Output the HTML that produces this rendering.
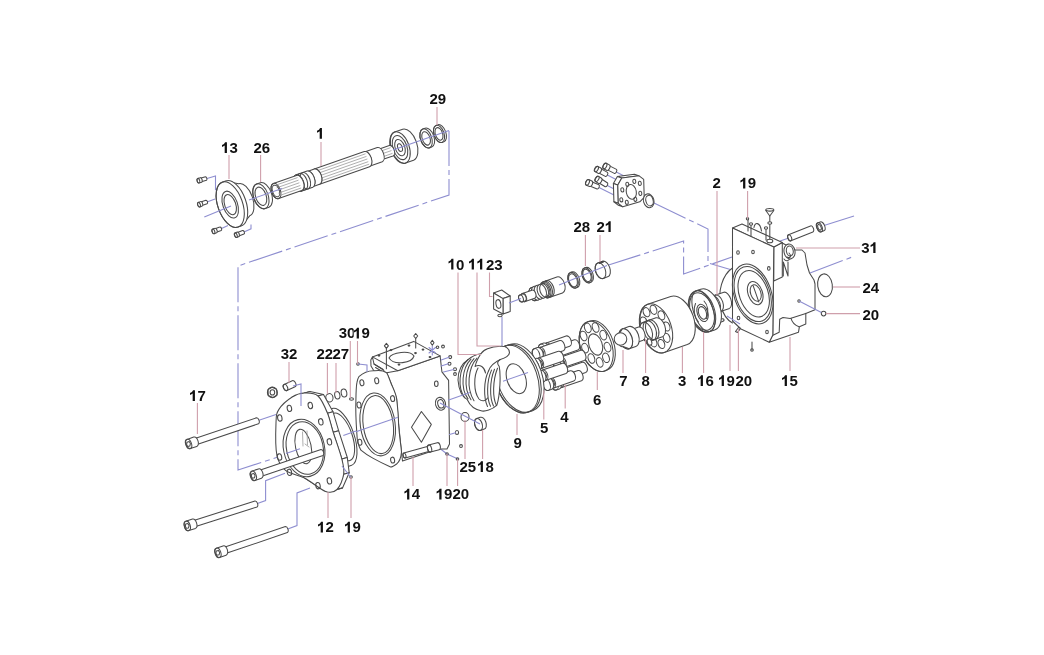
<!DOCTYPE html>
<html><head><meta charset="utf-8"><style>
html,body{margin:0;padding:0;background:#fff;}
body{width:1044px;height:655px;overflow:hidden;}
svg{display:block;}
.lb .one{fill:#111;stroke:none;}
.lb text{font-family:"Liberation Sans",sans-serif;font-weight:bold;font-size:15px;fill:#111;}
.ld polyline{fill:none;stroke:#cf9fab;stroke-width:1.1;}
.bl polyline{fill:none;stroke:#8e8ed0;stroke-width:1.1;}
.bl .bd{stroke-dasharray:35 4 5 4;}
.pt *{fill:none;stroke:#4a4a4a;stroke-width:1.05;stroke-linejoin:round;stroke-linecap:round;}
.pt .w{fill:#fff;}
.pt .lt{stroke:#999;stroke-width:0.8;}
.pt .b,.pt .bd{fill:none;stroke:#8e8ed0;stroke-width:1.1;}
.pt .bd{stroke-dasharray:35 4 5 4;}
</style></head><body>
<svg width="1044" height="655" viewBox="0 0 1044 655">
<defs><filter id="sf" x="0" y="0" width="1" height="1"><feOffset dx="0" dy="0"/></filter></defs>
<g filter="url(#sf)">
<rect width="1044" height="655" fill="#fff"/>
<g class="bl">
<polyline class="bd" points="449,131 449,195 238,266 238,470 278,457"/>
<polyline class="bd" points="654,203 708,229 708,263 732,270"/>
<polyline class="bd" points="607,265.6 683.6,241 683.6,274 732,257"/>
<polyline class="bd" points="810,273 853.7,256.4"/>
<polyline class="bs" points="207,178.5 215.5,175.9 215.5,190.3"/>
<polyline class="bs" points="207,202 215,199"/>
<polyline class="bs" points="221,228.8 228,225.5"/>
<polyline class="bs" points="244,232 251,228.8 251,224.5"/>
<polyline class="bs" points="615.4,171.4 624,176"/>
<polyline class="bs" points="606.4,174.4 619,181"/>
<polyline class="bs" points="606.4,184.9 617,190.5"/>
<polyline class="bs" points="598,186.9 614,195"/>
<polyline class="bs" points="631,192 654,203"/>
<polyline class="bs" points="502,317 502,346"/>
<polyline class="bs" points="780,241 789.7,237.8"/>
<polyline class="bs" points="824,225.5 854,216"/>
<polyline class="bs" points="257.5,420.8 276,414.5"/>
<polyline class="bs" points="256,504 265.6,500.5 265.6,480.7 285,473.3"/>
<polyline class="bs" points="286.4,529.6 297,525.5 297,493 310,488"/>
<polyline class="bs" points="438,447 447,454 458,459"/>
</g>
<g class="pt">
<path class="w" d="M609.1,165.6 L616.5,169.4 A1.3 2.3 27.2 0 1 614.3,173.4 L607.0,169.6 A1.3 2.3 27.2 0 1 609.1,165.6Z"/><ellipse cx="608.0" cy="167.6" rx="1.3" ry="2.3" transform="rotate(27.2 608.0 167.6)"/><path class="w" d="M606.3,163.3 L609.4,164.9 A1.7 3.0 27.2 0 1 606.6,170.3 L603.5,168.7 A1.7 3.0 27.2 0 1 606.3,163.3Z"/><ellipse cx="604.9" cy="166.0" rx="1.7" ry="3.0" transform="rotate(27.2 604.9 166.0)"/>
<path class="w" d="M600.6,168.6 L607.5,172.4 A1.3 2.3 28.4 0 1 605.3,176.4 L598.4,172.7 A1.3 2.3 28.4 0 1 600.6,168.6Z"/><ellipse cx="599.5" cy="170.7" rx="1.3" ry="2.3" transform="rotate(28.4 599.5 170.7)"/><path class="w" d="M597.8,166.4 L600.9,168.0 A1.7 3.0 28.4 0 1 598.1,173.3 L595.0,171.6 A1.7 3.0 28.4 0 1 597.8,166.4Z"/><ellipse cx="596.4" cy="169.0" rx="1.7" ry="3.0" transform="rotate(28.4 596.4 169.0)"/>
<path class="w" d="M601.2,178.8 L607.6,183.0 A1.3 2.3 32.6 0 1 605.2,186.8 L598.7,182.7 A1.3 2.3 32.6 0 1 601.2,178.8Z"/><ellipse cx="600.0" cy="180.8" rx="1.3" ry="2.3" transform="rotate(32.6 600.0 180.8)"/><path class="w" d="M598.6,176.4 L601.6,178.3 A1.7 3.0 32.6 0 1 598.3,183.3 L595.4,181.4 A1.7 3.0 32.6 0 1 598.6,176.4Z"/><ellipse cx="597.0" cy="178.9" rx="1.7" ry="3.0" transform="rotate(32.6 597.0 178.9)"/>
<path class="w" d="M591.6,181.7 L598.9,184.8 A1.3 2.3 23.2 0 1 597.1,189.0 L589.8,185.9 A1.3 2.3 23.2 0 1 591.6,181.7Z"/><ellipse cx="590.7" cy="183.8" rx="1.3" ry="2.3" transform="rotate(23.2 590.7 183.8)"/><path class="w" d="M588.7,179.6 L591.9,181.0 A1.7 3.0 23.2 0 1 589.5,186.5 L586.3,185.2 A1.7 3.0 23.2 0 1 588.7,179.6Z"/><ellipse cx="587.5" cy="182.4" rx="1.7" ry="3.0" transform="rotate(23.2 587.5 182.4)"/>
<polygon class="w" points="617.4,176.4 634.4,174.2 638.8,175.7 621.8,177.9"/>
<polygon class="w" points="613.4,183.4 617.4,176.4 621.8,177.9 617.8,184.9"/>
<polygon class="w" points="613.9,201.8 613.4,183.4 617.8,184.9 618.3,203.3"/>
<polygon class="w" points="618.4,205.3 613.9,201.8 618.3,203.3 622.8,206.8"/>
<polygon class="w" points="621.8,177.9 638.8,175.7 643.7,179.4 644.2,197.3 639.8,201.8 622.8,206.8 618.3,203.3 617.8,184.9"/>
<ellipse cx="631.3" cy="191.9" rx="5.0" ry="7.5" transform="rotate(-10 631.3 191.9)"/>
<ellipse cx="627.3" cy="184.4" rx="1.5" ry="2.1" transform="rotate(-10 627.3 184.4)"/>
<ellipse cx="634.3" cy="181.4" rx="1.5" ry="2.1" transform="rotate(-10 634.3 181.4)"/>
<ellipse cx="639.8" cy="183.4" rx="1.5" ry="2.1" transform="rotate(-10 639.8 183.4)"/>
<ellipse cx="640.3" cy="193.4" rx="1.5" ry="2.1" transform="rotate(-10 640.3 193.4)"/>
<ellipse cx="635.3" cy="199.3" rx="1.5" ry="2.1" transform="rotate(-10 635.3 199.3)"/>
<ellipse cx="626.8" cy="202.3" rx="1.5" ry="2.1" transform="rotate(-10 626.8 202.3)"/>
<ellipse cx="621.3" cy="199.8" rx="1.5" ry="2.1" transform="rotate(-10 621.3 199.8)"/>
<ellipse cx="622.3" cy="189.9" rx="1.5" ry="2.1" transform="rotate(-10 622.3 189.9)"/>
<ellipse class="w" cx="648.7" cy="200.8" rx="5.2" ry="7.0" transform="rotate(-15 648.7 200.8)"/>
<ellipse cx="649.5" cy="200.6" rx="3.6" ry="5.4" transform="rotate(-15 649.5 200.6)"/>
<path class="w" d="M597.8,262.9 L602.8,261.2 A4.9 8.2 -19.3 0 1 608.2,276.6 L603.2,278.4 A4.9 8.2 -19.3 0 1 597.8,262.9Z"/><ellipse cx="600.5" cy="270.7" rx="4.9" ry="8.2" transform="rotate(-19.3 600.5 270.7)"/>
<line x1="599.3" y1="262.4" x2="602.8" y2="261.2"/>
<line x1="599.4" y1="262.6" x2="602.9" y2="261.4"/>
<line x1="599.4" y1="262.8" x2="602.9" y2="261.5"/>
<line x1="599.5" y1="263.0" x2="603.0" y2="261.7"/>
<line x1="599.6" y1="263.2" x2="603.1" y2="261.9"/>
<line x1="599.6" y1="263.3" x2="603.1" y2="262.1"/>
<path class="w" d="M584.4,268.0 L585.9,267.5 A4.7 7.8 -19.3 0 1 591.1,282.2 L589.6,282.7 A4.7 7.8 -19.3 0 1 584.4,268.0Z"/><ellipse cx="587.0" cy="275.4" rx="4.7" ry="7.8" transform="rotate(-19.3 587.0 275.4)"/>
<ellipse cx="587.0" cy="275.4" rx="3.8" ry="6.4" transform="rotate(-19.3 587.0 275.4)"/>
<path class="w" d="M570.3,272.6 L571.8,272.0 A4.9 8.2 -19.3 0 1 577.2,287.5 L575.7,288.0 A4.9 8.2 -19.3 0 1 570.3,272.6Z"/><ellipse cx="573.0" cy="280.3" rx="4.9" ry="8.2" transform="rotate(-19.3 573.0 280.3)"/>
<ellipse cx="573.0" cy="280.3" rx="4.1" ry="6.8" transform="rotate(-19.3 573.0 280.3)"/>
<path class="w" d="M542.8,282.0 L556.9,277.0 A5.0 8.4 -19.3 0 1 562.5,292.9 L548.3,297.8 A5.0 8.4 -19.3 0 1 542.8,282.0Z"/><ellipse cx="545.5" cy="289.9" rx="5.0" ry="8.4" transform="rotate(-19.3 545.5 289.9)"/>
<ellipse cx="548.8" cy="288.7" rx="5.0" ry="8.4" transform="rotate(-19.3 548.8 288.7)"/>
<ellipse cx="547.0" cy="289.4" rx="5.0" ry="8.4" transform="rotate(-19.3 547.0 289.4)"/>
<path class="w" d="M531.0,287.8 L543.3,283.5 A4.1 6.8 -19.3 0 1 547.8,296.3 L535.5,300.6 A4.1 6.8 -19.3 0 1 531.0,287.8Z"/><ellipse cx="533.3" cy="294.2" rx="4.1" ry="6.8" transform="rotate(-19.3 533.3 294.2)"/>
<ellipse class="w" cx="536.1" cy="293.2" rx="4.3" ry="7.2" transform="rotate(-19.3 536.1 293.2)"/>
<ellipse class="w" cx="538.9" cy="292.2" rx="4.3" ry="7.2" transform="rotate(-19.3 538.9 292.2)"/>
<ellipse class="w" cx="541.8" cy="291.2" rx="4.3" ry="7.2" transform="rotate(-19.3 541.8 291.2)"/>
<ellipse cx="544.1" cy="290.4" rx="4.1" ry="6.8" transform="rotate(-19.3 544.1 290.4)"/>
<path class="w" d="M522.4,293.5 L531.9,290.2 A2.5 4.2 -19.3 0 1 534.7,298.2 L525.2,301.5 A2.5 4.2 -19.3 0 1 522.4,293.5Z"/><ellipse cx="523.8" cy="297.5" rx="2.5" ry="4.2" transform="rotate(-19.3 523.8 297.5)"/>
<path class="w" d="M519.8,295.1 L522.6,294.1 A2.2 3.6 -19.3 0 1 525.0,300.9 L522.2,301.9 A2.2 3.6 -19.3 0 1 519.8,295.1Z"/><ellipse cx="521.0" cy="298.5" rx="2.2" ry="3.6" transform="rotate(-19.3 521.0 298.5)"/>
<polygon class="w" points="493.6,293.0 501.7,290.0 510.2,296.0 503.0,298.6"/>
<polygon class="w" points="503.0,298.6 510.2,296.0 510.2,311.5 503.0,314.0"/>
<polygon class="w" points="493.6,293.0 503.0,298.6 503.0,314.0 493.6,309.0"/>
<ellipse cx="498.4" cy="304.0" rx="2.4" ry="4.4" transform="rotate(-10 498.4 304.0)"/>
<ellipse class="w" cx="500.0" cy="315.5" rx="2.2" ry="1.3"/>
<path class="w" d="M817.7,222.9 L820.3,221.9 A2.6 4.8 -22.0 0 1 823.9,230.8 L821.3,231.8 A2.6 4.8 -22.0 0 1 817.7,222.9Z"/><ellipse cx="819.5" cy="227.3" rx="2.6" ry="4.8" transform="rotate(-22.0 819.5 227.3)"/>
<ellipse cx="819.5" cy="227.3" rx="1.6" ry="2.9" transform="rotate(-22.0 819.5 227.3)"/>
<path class="w" d="M788.5,234.8 L810.5,225.9 A1.8 3.2 -22.0 0 1 812.9,231.9 L790.9,240.8 A1.8 3.2 -22.0 0 1 788.5,234.8Z"/><ellipse cx="789.7" cy="237.8" rx="1.8" ry="3.2" transform="rotate(-22.0 789.7 237.8)"/>
<polygon class="w" points="782.3,243.0 795.0,250.0 802.0,250.0 805.0,253.0 807.0,265.0 809.5,273.0 814.0,280.0 815.0,284.0 815.0,309.7 805.8,313.4 805.8,323.9 799.4,326.7 798.5,332.2 769.2,342.2 772.8,335.0 773.8,247.0"/>
<polyline points="771.9,335.8 779.2,332.2 779.7,319.3 783.0,317.5 790.2,318.4 805.8,313.4"/>
<path d="M791,318.4 C792,322 794,325 799,326.7"/>
<polygon class="w" points="773.8,247.0 782.3,242.5 782.3,277.0 773.8,281.0"/>
<polygon class="w" points="732.5,228.0 742.0,224.0 782.3,242.5 773.8,247.0"/>
<path class="w" d="M754,227.5 C754.5,222 760,221.5 761.5,231"/>
<path class="w" d="M732.5,268 C722,275 717.5,292 721,306 C723,314 727,320 732.5,323"/>
<polygon class="w" points="732.5,228.0 773.8,247.0 772.8,335.0 769.2,342.2 741.0,329.0 732.5,321.0"/>
<ellipse cx="738.0" cy="252.5" rx="1.3" ry="1.8"/>
<ellipse cx="753.0" cy="252.0" rx="1.3" ry="1.8"/>
<ellipse cx="768.8" cy="268.4" rx="1.3" ry="1.8"/>
<ellipse cx="738.5" cy="318.0" rx="1.3" ry="1.8"/>
<ellipse cx="767.0" cy="332.0" rx="1.3" ry="1.8"/>
<ellipse class="w" cx="752.7" cy="294.0" rx="18.6" ry="31.0" transform="rotate(-19.0 752.7 294.0)"/>
<ellipse cx="752.7" cy="294.0" rx="17.1" ry="28.5" transform="rotate(-19.0 752.7 294.0)"/>
<ellipse cx="753.7" cy="293.7" rx="14.4" ry="24.0" transform="rotate(-19.0 753.7 293.7)"/>
<ellipse class="w" cx="755.2" cy="293.1" rx="7.2" ry="12.0" transform="rotate(-19.0 755.2 293.1)"/>
<ellipse cx="755.7" cy="293.0" rx="5.1" ry="8.5" transform="rotate(-19.0 755.7 293.0)"/>
<line x1="753.2" y1="285.9" x2="758.8" y2="301.9"/>
<polyline points="783.3,276.0 783.3,262.0 788.0,276.0 788.0,262.0"/>
<path d="M784,259 C786,262 789,261 790,258"/>
<ellipse class="w" cx="789.5" cy="251.5" rx="5.5" ry="7.5" transform="rotate(-10 789.5 251.5)"/>
<ellipse cx="789.8" cy="251.0" rx="3.4" ry="5.0" transform="rotate(-10 789.8 251.0)"/>
<path d="M787,257 C790,259 792,256 789,253"/>
<line x1="748.0" y1="219.0" x2="748.0" y2="231.0"/>
<ellipse class="w" cx="747.5" cy="218.8" rx="1.2" ry="1.2"/>
<line x1="751.0" y1="224.0" x2="751.0" y2="236.0"/>
<ellipse class="w" cx="751.0" cy="224.0" rx="1.6" ry="1.2"/>
<line x1="766.0" y1="228.0" x2="766.0" y2="240.0"/>
<ellipse class="w" cx="766.0" cy="228.0" rx="1.6" ry="1.2"/>
<line x1="769.8" y1="216.0" x2="769.8" y2="241.0"/>
<polygon class="w" points="765.8,210.5 773.8,210.5 769.8,216.0"/>
<ellipse class="w" cx="769.8" cy="209.8" rx="4.0" ry="1.3"/>
<ellipse class="w" cx="769.8" cy="223.0" rx="2.0" ry="1.3"/>
<ellipse class="w" cx="769.8" cy="241.0" rx="3.0" ry="1.8"/>
<ellipse class="w" cx="825.0" cy="285.3" rx="7.3" ry="11.5" transform="rotate(-8 825.0 285.3)"/>
<ellipse class="w" cx="823.6" cy="313.6" rx="2.3" ry="2.3"/>
<ellipse cx="799.0" cy="301.0" rx="1.2" ry="1.2"/>
<ellipse class="w" cx="721.5" cy="320.4" rx="2.6" ry="1.5" transform="rotate(-15 721.5 320.4)"/>
<path class="w" d="M735.5,331.5 L738.5,327.5 L740.5,328.5 L737.5,332.5Z"/>
<line x1="752.0" y1="342.0" x2="752.0" y2="350.0"/>
<ellipse cx="752.0" cy="350.0" rx="1.3" ry="1.3"/>
<path class="w" d="M709.7,297.1 L723.9,292.2 A4.7 8.6 -19.0 0 1 729.5,308.4 L715.3,313.3 A4.7 8.6 -19.0 0 1 709.7,297.1Z"/><ellipse cx="712.5" cy="305.2" rx="4.7" ry="8.6" transform="rotate(-19.0 712.5 305.2)"/>
<ellipse cx="715.3" cy="304.2" rx="4.7" ry="8.6" transform="rotate(-19.0 715.3 304.2)"/>
<ellipse cx="718.2" cy="303.2" rx="4.7" ry="8.6" transform="rotate(-19.0 718.2 303.2)"/>
<path class="w" d="M695.0,291.2 L700.7,289.2 A12.5 21.5 -19.0 0 1 714.7,329.9 L709.0,331.8 A12.5 21.5 -19.0 0 1 695.0,291.2Z"/><ellipse cx="702.0" cy="311.5" rx="12.5" ry="21.5" transform="rotate(-19.0 702.0 311.5)"/>
<ellipse cx="702.0" cy="311.5" rx="11.3" ry="19.5" transform="rotate(-19.0 702.0 311.5)"/>
<ellipse cx="703.4" cy="311.0" rx="9.7" ry="21.5" transform="rotate(-19.0 703.4 311.0)"/>
<ellipse class="w" cx="702.5" cy="312.9" rx="5.2" ry="9.0" transform="rotate(-19.0 702.5 312.9)"/>
<ellipse cx="702.5" cy="312.9" rx="3.8" ry="6.5" transform="rotate(-19.0 702.5 312.9)"/>
<path d="M695.5,303.5 C693,309 694,317 698.5,322"/>
<path d="M704,301 C708,305 709,312 706.5,318.5"/>
<path class="w" d="M647.7,304.3 L670.7,296.4 A15.3 25.5 -19.0 0 1 687.3,344.6 L664.3,352.5 A15.3 25.5 -19.0 0 1 647.7,304.3Z"/><ellipse cx="656.0" cy="328.4" rx="15.3" ry="25.5" transform="rotate(-19.0 656.0 328.4)"/>
<ellipse cx="646.5" cy="333.4" rx="3.2" ry="4.7" transform="rotate(-19 646.5 333.4)"/>
<ellipse cx="653.5" cy="342.3" rx="3.2" ry="4.7" transform="rotate(-19 653.5 342.3)"/>
<ellipse cx="661.4" cy="344.0" rx="3.2" ry="4.7" transform="rotate(-19 661.4 344.0)"/>
<ellipse cx="666.6" cy="337.8" rx="3.2" ry="4.7" transform="rotate(-19 666.6 337.8)"/>
<ellipse cx="666.6" cy="326.5" rx="3.2" ry="4.7" transform="rotate(-19 666.6 326.5)"/>
<ellipse cx="661.4" cy="315.4" rx="3.2" ry="4.7" transform="rotate(-19 661.4 315.4)"/>
<ellipse cx="653.5" cy="309.8" rx="3.2" ry="4.7" transform="rotate(-19 653.5 309.8)"/>
<ellipse cx="646.5" cy="312.2" rx="3.2" ry="4.7" transform="rotate(-19 646.5 312.2)"/>
<ellipse cx="643.7" cy="321.5" rx="3.2" ry="4.7" transform="rotate(-19 643.7 321.5)"/>
<path class="w" d="M642.8,322.4 L656.0,317.8 A6.0 10.0 -19.0 0 1 662.5,336.7 L649.3,341.3 A6.0 10.0 -19.0 0 1 642.8,322.4Z"/><ellipse cx="646.0" cy="331.9" rx="6.0" ry="10.0" transform="rotate(-19.0 646.0 331.9)"/>
<ellipse cx="649.8" cy="330.6" rx="6.2" ry="10.3" transform="rotate(-19.0 649.8 330.6)"/>
<ellipse cx="652.2" cy="329.7" rx="6.2" ry="10.3" transform="rotate(-19.0 652.2 329.7)"/>
<ellipse class="w" cx="649.5" cy="342.0" rx="2.2" ry="3.3" transform="rotate(-19 649.5 342.0)"/>
<path class="w" d="M630.1,329.9 L638.6,327.0 A4.2 7.0 -19.0 0 1 643.1,340.2 L634.6,343.2 A4.2 7.0 -19.0 0 1 630.1,329.9Z"/><ellipse cx="632.4" cy="336.6" rx="4.2" ry="7.0" transform="rotate(-19.0 632.4 336.6)"/>
<path class="w" d="M622.3,328.9 L628.9,326.6 A6.3 10.5 -19.0 0 1 635.8,346.5 L629.2,348.8 A6.3 10.5 -19.0 0 1 622.3,328.9Z"/><ellipse cx="625.7" cy="338.8" rx="6.3" ry="10.5" transform="rotate(-19.0 625.7 338.8)"/>
<path class="w" d="M618.9,334.3 L622.3,328.9 A6.3 10.5 -19.0 0 1 629.2,348.8 L623.1,346.6 A3.9 6.5 -19.0 0 1 618.9,334.3Z"/>
<circle class="w" cx="620.5" cy="339" r="6.3"/>
<path class="w" d="M587.7,321.8 L589.8,321.1 A15.6 26.0 -19.0 0 1 606.8,370.3 L604.7,371.0 A15.6 26.0 -19.0 0 1 587.7,321.8Z"/><ellipse cx="596.2" cy="346.4" rx="15.6" ry="26.0" transform="rotate(-19.0 596.2 346.4)"/>
<ellipse cx="595.5" cy="344.5" rx="6.6" ry="11.0" transform="rotate(-19.0 595.5 344.5)"/>
<ellipse cx="585.1" cy="348.1" rx="3.2" ry="4.9" transform="rotate(-19 585.1 348.1)"/>
<ellipse cx="591.4" cy="358.5" rx="3.2" ry="4.9" transform="rotate(-19 591.4 358.5)"/>
<ellipse cx="599.7" cy="362.4" rx="3.2" ry="4.9" transform="rotate(-19 599.7 362.4)"/>
<ellipse cx="606.0" cy="357.8" rx="3.2" ry="4.9" transform="rotate(-19 606.0 357.8)"/>
<ellipse cx="607.5" cy="347.1" rx="3.2" ry="4.9" transform="rotate(-19 607.5 347.1)"/>
<ellipse cx="603.3" cy="335.1" rx="3.2" ry="4.9" transform="rotate(-19 603.3 335.1)"/>
<ellipse cx="595.6" cy="327.5" rx="3.2" ry="4.9" transform="rotate(-19 595.6 327.5)"/>
<ellipse cx="587.8" cy="327.9" rx="3.2" ry="4.9" transform="rotate(-19 587.8 327.9)"/>
<ellipse cx="583.6" cy="336.0" rx="3.2" ry="4.9" transform="rotate(-19 583.6 336.0)"/>
<path class="w" d="M560.9,357.1 L580.8,350.2 A3.2 5.4 -19.0 0 1 584.3,360.4 L564.4,367.3 A3.2 5.4 -19.0 0 1 560.9,357.1Z"/><ellipse cx="562.7" cy="362.2" rx="3.2" ry="5.4" transform="rotate(-19.0 562.7 362.2)"/>
<path class="w" d="M559.2,359.8 L561.6,359.0 A2.0 3.4 -19.0 0 1 563.8,365.4 L561.4,366.2 A2.0 3.4 -19.0 0 1 559.2,359.8Z"/>
<path class="w" d="M555.0,358.5 L558.3,357.3 A3.6 6.0 -19.0 0 1 562.3,368.7 L558.9,369.8 A3.6 6.0 -19.0 0 1 555.0,358.5Z"/><ellipse cx="557.0" cy="364.1" rx="3.6" ry="6.0" transform="rotate(-19.0 557.0 364.1)"/>
<path class="w" d="M562.3,369.2 L582.2,362.3 A3.2 5.4 -19.0 0 1 585.7,372.5 L565.8,379.4 A3.2 5.4 -19.0 0 1 562.3,369.2Z"/><ellipse cx="564.1" cy="374.3" rx="3.2" ry="5.4" transform="rotate(-19.0 564.1 374.3)"/>
<path class="w" d="M560.6,371.9 L563.0,371.1 A2.0 3.4 -19.0 0 1 565.2,377.5 L562.8,378.3 A2.0 3.4 -19.0 0 1 560.6,371.9Z"/>
<path class="w" d="M556.5,370.6 L559.8,369.4 A3.6 6.0 -19.0 0 1 563.7,380.8 L560.4,381.9 A3.6 6.0 -19.0 0 1 556.5,370.6Z"/><ellipse cx="558.4" cy="376.2" rx="3.6" ry="6.0" transform="rotate(-19.0 558.4 376.2)"/>
<path class="w" d="M554.6,346.7 L574.4,339.8 A3.2 5.4 -19.0 0 1 577.9,350.1 L558.1,356.9 A3.2 5.4 -19.0 0 1 554.6,346.7Z"/><ellipse cx="556.3" cy="351.8" rx="3.2" ry="5.4" transform="rotate(-19.0 556.3 351.8)"/>
<path class="w" d="M552.9,349.4 L555.2,348.6 A2.0 3.4 -19.0 0 1 557.4,355.0 L555.1,355.8 A2.0 3.4 -19.0 0 1 552.9,349.4Z"/>
<path class="w" d="M548.7,348.1 L552.0,346.9 A3.6 6.0 -19.0 0 1 555.9,358.3 L552.6,359.4 A3.6 6.0 -19.0 0 1 548.7,348.1Z"/><ellipse cx="550.7" cy="353.8" rx="3.6" ry="6.0" transform="rotate(-19.0 550.7 353.8)"/>
<path class="w" d="M558.2,377.3 L578.0,370.5 A3.2 5.4 -19.0 0 1 581.5,380.7 L561.7,387.5 A3.2 5.4 -19.0 0 1 558.2,377.3Z"/><ellipse cx="559.9" cy="382.4" rx="3.2" ry="5.4" transform="rotate(-19.0 559.9 382.4)"/>
<path class="w" d="M556.5,380.0 L558.8,379.2 A2.0 3.4 -19.0 0 1 561.0,385.6 L558.7,386.4 A2.0 3.4 -19.0 0 1 556.5,380.0Z"/>
<path class="w" d="M552.3,378.7 L555.6,377.5 A3.6 6.0 -19.0 0 1 559.5,388.9 L556.2,390.0 A3.6 6.0 -19.0 0 1 552.3,378.7Z"/><ellipse cx="554.3" cy="384.4" rx="3.6" ry="6.0" transform="rotate(-19.0 554.3 384.4)"/>
<path class="w" d="M546.3,342.9 L566.1,336.0 A3.2 5.4 -19.0 0 1 569.7,346.2 L549.8,353.1 A3.2 5.4 -19.0 0 1 546.3,342.9Z"/><ellipse cx="548.1" cy="348.0" rx="3.2" ry="5.4" transform="rotate(-19.0 548.1 348.0)"/>
<path class="w" d="M544.6,345.6 L546.9,344.7 A2.0 3.4 -19.0 0 1 549.2,351.2 L546.8,352.0 A2.0 3.4 -19.0 0 1 544.6,345.6Z"/>
<path class="w" d="M540.4,344.2 L543.7,343.1 A3.6 6.0 -19.0 0 1 547.6,354.4 L544.3,355.6 A3.6 6.0 -19.0 0 1 540.4,344.2Z"/><ellipse cx="542.4" cy="349.9" rx="3.6" ry="6.0" transform="rotate(-19.0 542.4 349.9)"/>
<path class="w" d="M550.4,377.7 L570.2,370.8 A3.2 5.4 -19.0 0 1 573.8,381.0 L553.9,387.9 A3.2 5.4 -19.0 0 1 550.4,377.7Z"/><ellipse cx="552.1" cy="382.8" rx="3.2" ry="5.4" transform="rotate(-19.0 552.1 382.8)"/>
<path class="w" d="M548.7,380.4 L551.0,379.6 A2.0 3.4 -19.0 0 1 553.3,386.0 L550.9,386.8 A2.0 3.4 -19.0 0 1 548.7,380.4Z"/>
<path class="w" d="M544.5,379.0 L547.8,377.9 A3.6 6.0 -19.0 0 1 551.7,389.3 L548.4,390.4 A3.6 6.0 -19.0 0 1 544.5,379.0Z"/><ellipse cx="546.5" cy="384.7" rx="3.6" ry="6.0" transform="rotate(-19.0 546.5 384.7)"/>
<path class="w" d="M539.9,347.4 L559.8,340.5 A3.2 5.4 -19.0 0 1 563.3,350.7 L543.5,357.6 A3.2 5.4 -19.0 0 1 539.9,347.4Z"/><ellipse cx="541.7" cy="352.5" rx="3.2" ry="5.4" transform="rotate(-19.0 541.7 352.5)"/>
<path class="w" d="M538.2,350.1 L540.6,349.3 A2.0 3.4 -19.0 0 1 542.8,355.7 L540.4,356.5 A2.0 3.4 -19.0 0 1 538.2,350.1Z"/>
<path class="w" d="M534.1,348.8 L537.4,347.6 A3.6 6.0 -19.0 0 1 541.3,359.0 L538.0,360.1 A3.6 6.0 -19.0 0 1 534.1,348.8Z"/><ellipse cx="536.0" cy="354.4" rx="3.6" ry="6.0" transform="rotate(-19.0 536.0 354.4)"/>
<path class="w" d="M542.6,370.1 L562.5,363.2 A3.2 5.4 -19.0 0 1 566.0,373.4 L546.1,380.3 A3.2 5.4 -19.0 0 1 542.6,370.1Z"/><ellipse cx="544.4" cy="375.2" rx="3.2" ry="5.4" transform="rotate(-19.0 544.4 375.2)"/>
<path class="w" d="M540.9,372.8 L543.3,372.0 A2.0 3.4 -19.0 0 1 545.5,378.4 L543.1,379.2 A2.0 3.4 -19.0 0 1 540.9,372.8Z"/>
<path class="w" d="M536.7,371.5 L540.1,370.3 A3.6 6.0 -19.0 0 1 544.0,381.7 L540.7,382.8 A3.6 6.0 -19.0 0 1 536.7,371.5Z"/><ellipse cx="538.7" cy="377.1" rx="3.6" ry="6.0" transform="rotate(-19.0 538.7 377.1)"/>
<path class="w" d="M538.5,358.1 L558.3,351.3 A3.2 5.4 -19.0 0 1 561.9,361.5 L542.0,368.3 A3.2 5.4 -19.0 0 1 538.5,358.1Z"/><ellipse cx="540.2" cy="363.2" rx="3.2" ry="5.4" transform="rotate(-19.0 540.2 363.2)"/>
<path class="w" d="M536.8,360.8 L539.1,360.0 A2.0 3.4 -19.0 0 1 541.4,366.4 L539.0,367.3 A2.0 3.4 -19.0 0 1 536.8,360.8Z"/>
<path class="w" d="M532.6,359.5 L535.9,358.4 A3.6 6.0 -19.0 0 1 539.8,369.7 L536.5,370.9 A3.6 6.0 -19.0 0 1 532.6,359.5Z"/><ellipse cx="534.6" cy="365.2" rx="3.6" ry="6.0" transform="rotate(-19.0 534.6 365.2)"/>
<path class="w" d="M505.0,346.1 L509.7,344.5 A21.0 35.0 -19.0 0 1 532.6,410.7 L527.8,412.3 A21.0 35.0 -19.0 0 1 505.0,346.1Z"/><ellipse cx="516.4" cy="379.2" rx="21.0" ry="35.0" transform="rotate(-19.0 516.4 379.2)"/>
<ellipse cx="518.3" cy="378.5" rx="21.0" ry="35.0" transform="rotate(-19.0 518.3 378.5)"/>
<ellipse class="w" cx="516.3" cy="378.7" rx="9.3" ry="15.5" transform="rotate(-19.0 516.3 378.7)"/>

<path class="w" d="M480.9,353.7 C483,350 490,346.5 500.3,346.3 C505,346 509,348 509.5,352.6 C509,356 504,358.5 500.3,359.5 C497,361 497,364 499.2,366.3 C501,375 500,395 496.9,405.2 C492,410 485,411.5 482,411 C476,410 470,406 467.2,399.5 C462,397 459,392 458,380 C458,370 461,364 468.3,359.5 C472,356 476,354.5 480.9,353.7 Z"/>
<path d="M468,359.5 C459,368 457,388 465,398.0"/>
<path d="M471,359.05 C462,368 460,388 468,398.9"/>
<path d="M474,358.6 C465,368 463,388 471,399.8"/>
<path d="M477,358.15 C468,368 466,388 474,400.7"/>
<path d="M475.2,366.3 C480,364 484.5,367 485.5,373"/>
<path d="M478,368 C473.5,376 473.5,392 479,399 C482,402 486,401 487.5,398"/>
<path d="M488.5,371.0 C483.5,381 483.5,398 487.5,406.5"/>
<path d="M491.5,370.1 C486.5,381 486.5,398 490.5,406.2"/>
<path d="M494.5,369.2 C489.5,381 489.5,398 493.5,405.9"/>
<path d="M497.5,368.3 C492.5,381 492.5,398 496.5,405.6"/>
<path d="M480.9,353.7 C478,358 476,362 475.2,366.3"/>
<path d="M500.3,359.5 C495,362 490,366 488.5,371"/>
<polygon class="w" points="386.7,372.8 397.8,370.8 440.1,355.9 441.9,371.8 448.6,380.3 449.5,444.0 447.0,449.0 438.3,449.0 402.5,461.0 401.5,452.1 398.6,424.4 396.6,398.6 391.6,384.7"/>
<polygon class="w" points="372.4,356.9 413.7,341.4 440.1,355.9 397.8,370.8"/>
<path d="M389,358 C392,352 410,350 414,356 C412,363 394,366 389,358Z"/>
<ellipse cx="379.0" cy="355.5" rx="0.9" ry="0.6"/>
<ellipse cx="391.0" cy="350.0" rx="0.9" ry="0.6"/>
<ellipse cx="409.0" cy="345.5" rx="0.9" ry="0.6"/>
<ellipse cx="423.0" cy="349.5" rx="0.9" ry="0.6"/>
<ellipse cx="430.0" cy="357.0" rx="0.9" ry="0.6"/>
<ellipse cx="415.5" cy="353.0" rx="0.9" ry="0.6"/>
<ellipse cx="399.0" cy="364.5" rx="0.9" ry="0.6"/>
<polygon class="w" points="372.4,356.9 374.0,364.0 383.0,369.5 386.0,373.5 382.5,375.0 374.0,371.0 371.0,366.0 370.8,360.0"/>
<line x1="374.0" y1="364.0" x2="383.0" y2="369.5"/>
<line x1="375.5" y1="367.5" x2="384.0" y2="372.5"/>
<path class="w" d="M358.9,376.7 C364,372 370,370.5 374.8,370.8 C380,370 384,371 386.7,372.8 C389,377 390,381 391.6,384.7 C394,390 396,394 396.6,398.6 C398,410 398.5,418 398.6,424.4 C399.5,437 401,446 401.5,452.1 C401,458 399,462 396.6,464 C394,466 392,467 390.6,467 C384,464 378,461 372.8,458.1 C367,455 363,452 360.9,450.2 C358,445 357,440 356.9,434.3 C356,422 355.5,410 355.9,400.6 C356,392 356.3,386 356.9,382.7 C357.3,380 358,378 358.9,376.7Z"/>
<ellipse class="w" cx="377.7" cy="424.4" rx="17.4" ry="31.7" transform="rotate(-8 377.7 424.4)"/>
<ellipse cx="378.2" cy="424.6" rx="15.0" ry="29.2" transform="rotate(-8 378.2 424.6)"/>
<ellipse cx="361.9" cy="382.7" rx="2.0" ry="3.0" transform="rotate(-10 361.9 382.7)"/>
<ellipse cx="376.7" cy="380.7" rx="2.0" ry="3.0" transform="rotate(-10 376.7 380.7)"/>
<ellipse cx="392.6" cy="398.6" rx="2.0" ry="3.0" transform="rotate(-10 392.6 398.6)"/>
<ellipse cx="359.9" cy="442.2" rx="2.0" ry="3.0" transform="rotate(-10 359.9 442.2)"/>
<ellipse cx="392.6" cy="460.1" rx="2.0" ry="3.0" transform="rotate(-10 392.6 460.1)"/>
<ellipse cx="359.0" cy="405.0" rx="2.0" ry="3.0" transform="rotate(-10 359.0 405.0)"/>
<polygon class="w" points="421.4,411.5 431.3,424.4 421.4,442.2 411.5,427.3"/>
<ellipse class="w" cx="440.5" cy="403.8" rx="5.0" ry="6.5" transform="rotate(-15 440.5 403.8)"/>
<ellipse cx="440.8" cy="403.8" rx="3.0" ry="4.3" transform="rotate(-15 440.8 403.8)"/>
<ellipse cx="436.3" cy="383.7" rx="1.8" ry="2.8"/>
<path class="w" d="M403.8,453.0 L432.7,445.0 A1.4 2.6 -15.4 0 1 434.1,450.0 L405.2,458.0 A1.4 2.6 -15.4 0 1 403.8,453.0Z"/><ellipse cx="404.5" cy="455.5" rx="1.4" ry="2.6" transform="rotate(-15.4 404.5 455.5)"/>
<path class="w" d="M428.6,445.1 L437.3,442.7 A2.0 3.6 -15.4 0 1 439.2,449.7 L430.5,452.1 A2.0 3.6 -15.4 0 1 428.6,445.1Z"/><ellipse cx="429.6" cy="448.6" rx="2.0" ry="3.6" transform="rotate(-15.4 429.6 448.6)"/>
<line x1="386.4" y1="347.9" x2="386.4" y2="368.8"/>
<polygon class="w" points="386.4,343.4 388.4,345.9 386.4,348.4 384.4,345.9"/>
<line x1="415.7" y1="338.0" x2="415.7" y2="348.0"/>
<polygon class="w" points="415.7,333.5 417.7,336.0 415.7,338.5 413.7,336.0"/>
<ellipse cx="450.2" cy="357.1" rx="1.5" ry="1.5"/>
<ellipse cx="449.5" cy="363.7" rx="1.5" ry="1.5"/>
<ellipse cx="455.0" cy="369.2" rx="1.5" ry="1.5"/>
<line class="b" x1="441.2" y1="360.0" x2="449.0" y2="357.3"/>
<line class="b" x1="441.2" y1="366.0" x2="448.2" y2="363.8"/>
<line class="b" x1="443.5" y1="372.0" x2="453.7" y2="369.5"/>
<ellipse cx="455.0" cy="374.0" rx="1.4" ry="1.4"/>
<path class="b" d="M429,347.5 L435.5,353 M435.5,347.5 L429,353 M432.3,346 L432.3,355"/>
<polygon class="w" points="432.3,340.2 434.0,342.7 432.3,345.2 430.6,342.7"/>
<ellipse cx="437.5" cy="347.2" rx="1.3" ry="1.3"/>
<ellipse cx="443.0" cy="346.5" rx="1.4" ry="1.4"/>
<ellipse class="w" cx="465.0" cy="417.0" rx="4.0" ry="4.5"/>
<path class="w" d="M476.5,418.6 L480.3,417.3 A3.7 6.2 -19.0 0 1 484.3,429.1 L480.5,430.4 A3.7 6.2 -19.0 0 1 476.5,418.6Z"/><ellipse cx="478.5" cy="424.5" rx="3.7" ry="6.2" transform="rotate(-19.0 478.5 424.5)"/>
<ellipse cx="461.0" cy="446.0" rx="1.4" ry="1.4"/>
<ellipse cx="457.5" cy="459.0" rx="1.3" ry="1.3"/>
<ellipse cx="447.0" cy="454.0" rx="1.3" ry="1.3"/>
<ellipse cx="457.0" cy="432.4" rx="1.6" ry="2.0"/>
<line class="b" x1="449.5" y1="434.5" x2="455.5" y2="432.8"/>
<ellipse class="w" cx="272.4" cy="392.4" rx="5.0" ry="5.3"/>
<ellipse cx="272.4" cy="392.4" rx="2.3" ry="2.6"/>
<path d="M268,389.5 L272,387.3 L276.5,389.3 L277,395 L273,397.5 L268.3,395.5Z"/>
<path class="w" d="M284.1,384.5 L292.3,380.7 A2.0 3.3 -25.0 0 1 295.1,386.7 L286.9,390.5 A2.0 3.3 -25.0 0 1 284.1,384.5Z"/><ellipse cx="285.5" cy="387.5" rx="2.0" ry="3.3" transform="rotate(-25.0 285.5 387.5)"/>
<ellipse class="w" cx="329.4" cy="397.8" rx="3.6" ry="4.2" transform="rotate(-10 329.4 397.8)"/>
<ellipse class="w" cx="337.3" cy="395.2" rx="2.6" ry="3.8" transform="rotate(-10 337.3 395.2)"/>
<ellipse class="w" cx="344.0" cy="393.0" rx="2.8" ry="4.0" transform="rotate(-10 344.0 393.0)"/>
<ellipse class="w" cx="351.5" cy="399.0" rx="2.0" ry="1.3"/>
<ellipse cx="358.0" cy="364.0" rx="1.3" ry="1.3"/>
<ellipse cx="351.0" cy="477.0" rx="1.3" ry="1.3"/>
<path class="w" d="M320.2,412.6 L332.0,408.6 A12.6 30.0 -19.0 0 1 351.6,465.3 L339.8,469.4 A12.6 30.0 -19.0 0 1 320.2,412.6Z"/>
<ellipse cx="341.8" cy="436.9" rx="10.5" ry="25.0" transform="rotate(-19.0 341.8 436.9)"/>
<polygon class="w" points="292.2,397.0 304.6,393.1 310.1,391.6 297.7,395.5"/>
<polygon class="w" points="304.6,393.1 318.0,396.0 323.5,394.5 310.1,391.6"/>
<polygon class="w" points="318.0,396.0 327.5,413.2 333.0,411.7 323.5,394.5"/>
<polygon class="w" points="327.5,413.2 333.2,432.3 338.7,430.8 333.0,411.7"/>
<polygon class="w" points="333.2,432.3 341.8,459.0 347.3,457.5 338.7,430.8"/>
<polygon class="w" points="341.8,459.0 343.7,474.2 349.2,472.7 347.3,457.5"/>
<polygon class="w" points="343.7,474.2 337.0,489.5 342.5,488.0 349.2,472.7"/>
<polygon class="w" points="337.0,489.5 325.6,491.4 331.1,489.9 342.5,488.0"/>
<polygon class="w" points="325.6,491.4 304.6,478.0 310.1,476.5 331.1,489.9"/>
<path class="w" d="M278.9,409.4 C281.6,405.1 287.9,399.7 292.2,397.0 C296.5,394.3 300.3,393.3 304.6,393.1 C308.9,392.9 314.2,392.6 318.0,396.0 C321.8,399.4 325.0,407.1 327.5,413.2 C330.0,419.2 330.8,424.7 333.2,432.3 C335.6,439.9 340.1,452.0 341.8,459.0 C343.6,466.0 344.5,469.1 343.7,474.2 C342.9,479.3 340.0,486.6 337.0,489.5 C334.0,492.4 331.0,493.3 325.6,491.4 C320.2,489.5 311.3,481.5 304.6,478.0 C297.9,474.5 290.1,474.2 285.5,470.4 C280.9,466.6 278.5,463.1 276.9,455.2 C275.3,447.2 275.7,430.3 276.0,422.7 C276.3,415.1 276.2,413.7 278.9,409.4 Z"/>
<ellipse class="w" cx="304.0" cy="448.0" rx="20.5" ry="29.0" transform="rotate(-12 304.0 448.0)"/>
<ellipse cx="304.8" cy="448.0" rx="18.3" ry="26.5" transform="rotate(-12 304.8 448.0)"/>
<ellipse class="w" cx="303.3" cy="446.5" rx="7.8" ry="17.5" transform="rotate(-12 303.3 446.5)"/>
<line class="lt" x1="302.5" y1="432.0" x2="303.0" y2="446.0"/>
<line class="lt" x1="307.0" y1="431.0" x2="307.5" y2="445.0"/>
<line class="lt" x1="305.0" y1="444.0" x2="309.0" y2="447.0"/>
<ellipse cx="289.4" cy="408.4" rx="2.2" ry="3.2" transform="rotate(-12 289.4 408.4)"/>
<ellipse cx="310.3" cy="405.5" rx="2.2" ry="3.2" transform="rotate(-12 310.3 405.5)"/>
<ellipse cx="279.8" cy="418.0" rx="2.2" ry="3.2" transform="rotate(-12 279.8 418.0)"/>
<ellipse cx="320.8" cy="421.8" rx="2.2" ry="3.2" transform="rotate(-12 320.8 421.8)"/>
<ellipse cx="329.4" cy="441.8" rx="2.2" ry="3.2" transform="rotate(-12 329.4 441.8)"/>
<ellipse cx="329.4" cy="480.9" rx="2.2" ry="3.2" transform="rotate(-12 329.4 480.9)"/>
<ellipse cx="289.4" cy="472.3" rx="2.2" ry="3.2" transform="rotate(-12 289.4 472.3)"/>
<ellipse cx="279.5" cy="457.0" rx="2.2" ry="3.2" transform="rotate(-12 279.5 457.0)"/>
<ellipse cx="318.0" cy="485.7" rx="2.2" ry="3.2" transform="rotate(-12 318.0 485.7)"/>
<path class="w" d="M194.2,438.7 L256.5,417.8 A1.9 3.2 -18.6 0 1 258.5,423.8 L196.3,444.8 A1.9 3.2 -18.6 0 1 194.2,438.7Z"/><ellipse cx="195.2" cy="441.8" rx="1.9" ry="3.2" transform="rotate(-18.6 195.2 441.8)"/><path class="w" d="M187.0,439.4 L193.7,437.1 A2.9 4.9 -18.6 0 1 196.8,446.4 L190.2,448.6 A2.9 4.9 -18.6 0 1 187.0,439.4Z"/><ellipse cx="188.6" cy="444.0" rx="2.9" ry="4.9" transform="rotate(-18.6 188.6 444.0)"/><polygon points="187.0,442.2 189.2,441.6 190.4,443.6 189.8,446.0 187.6,446.4 186.6,444.4"/>
<path class="w" d="M193.0,520.7 L255.0,501.0 A1.9 3.2 -17.7 0 1 257.0,507.0 L194.9,526.8 A1.9 3.2 -17.7 0 1 193.0,520.7Z"/><ellipse cx="194.0" cy="523.8" rx="1.9" ry="3.2" transform="rotate(-17.7 194.0 523.8)"/><path class="w" d="M185.8,521.2 L192.5,519.1 A2.9 4.9 -17.7 0 1 195.5,528.4 L188.8,530.6 A2.9 4.9 -17.7 0 1 185.8,521.2Z"/><ellipse cx="187.3" cy="525.9" rx="2.9" ry="4.9" transform="rotate(-17.7 187.3 525.9)"/><polygon points="185.7,524.1 187.9,523.5 189.1,525.5 188.5,527.9 186.3,528.3 185.3,526.3"/>
<path class="w" d="M223.5,547.5 L285.4,526.6 A1.9 3.2 -18.7 0 1 287.4,532.6 L225.6,553.6 A1.9 3.2 -18.7 0 1 223.5,547.5Z"/><ellipse cx="224.5" cy="550.6" rx="1.9" ry="3.2" transform="rotate(-18.7 224.5 550.6)"/><path class="w" d="M216.3,548.2 L223.0,545.9 A2.9 4.9 -18.7 0 1 226.1,555.2 L219.5,557.4 A2.9 4.9 -18.7 0 1 216.3,548.2Z"/><ellipse cx="217.9" cy="552.8" rx="2.9" ry="4.9" transform="rotate(-18.7 217.9 552.8)"/><polygon points="216.3,551.0 218.5,550.4 219.7,552.4 219.1,554.8 216.9,555.2 215.9,553.2"/>
<path class="w" d="M258.9,470.5 L321.0,449.5 A1.9 3.2 -18.7 0 1 323.0,455.5 L261.0,476.6 A1.9 3.2 -18.7 0 1 258.9,470.5Z"/><ellipse cx="259.9" cy="473.6" rx="1.9" ry="3.2" transform="rotate(-18.7 259.9 473.6)"/><path class="w" d="M251.7,471.2 L258.4,468.9 A2.9 4.9 -18.7 0 1 261.5,478.2 L254.9,480.4 A2.9 4.9 -18.7 0 1 251.7,471.2Z"/><ellipse cx="253.3" cy="475.8" rx="2.9" ry="4.9" transform="rotate(-18.7 253.3 475.8)"/><polygon points="251.7,474.0 253.9,473.4 255.1,475.4 254.5,477.8 252.3,478.2 251.3,476.2"/>
<path class="w" d="M436.0,125.4 L437.9,124.8 A5.0 9.0 -19.3 0 1 443.9,141.8 L442.0,142.4 A5.0 9.0 -19.3 0 1 436.0,125.4Z"/><ellipse cx="439.0" cy="133.9" rx="5.0" ry="9.0" transform="rotate(-19.3 439.0 133.9)"/>
<ellipse cx="439.0" cy="133.9" rx="3.6" ry="6.5" transform="rotate(-19.3 439.0 133.9)"/>
<path class="w" d="M422.8,129.0 L425.1,128.2 A5.6 10.0 -19.3 0 1 431.7,147.1 L429.4,147.9 A5.6 10.0 -19.3 0 1 422.8,129.0Z"/><ellipse cx="426.1" cy="138.4" rx="5.6" ry="10.0" transform="rotate(-19.3 426.1 138.4)"/>
<ellipse cx="426.1" cy="138.4" rx="3.9" ry="7.0" transform="rotate(-19.3 426.1 138.4)"/>
<path class="w" d="M394.6,132.0 L402.7,129.2 A9.2 16.5 -19.3 0 1 413.6,160.3 L405.5,163.1 A9.2 16.5 -19.3 0 1 394.6,132.0Z"/><ellipse cx="400.0" cy="147.6" rx="9.2" ry="16.5" transform="rotate(-19.3 400.0 147.6)"/>
<ellipse cx="400.0" cy="147.6" rx="7.0" ry="12.5" transform="rotate(-19.3 400.0 147.6)"/>
<ellipse cx="400.0" cy="147.6" rx="4.8" ry="8.5" transform="rotate(-19.3 400.0 147.6)"/>
<ellipse cx="400.0" cy="147.6" rx="2.2" ry="4.0" transform="rotate(-19.3 400.0 147.6)"/>
<path class="w" d="M378.0,149.5 L389.3,145.5 A3.1 5.5 -19.3 0 1 393.0,155.9 L381.6,159.8 A3.1 5.5 -19.3 0 1 378.0,149.5Z"/><ellipse cx="379.8" cy="154.6" rx="3.1" ry="5.5" transform="rotate(-19.3 379.8 154.6)"/>
<line class="lt" x1="378.8" y1="151.8" x2="390.2" y2="147.8"/>
<line class="lt" x1="379.8" y1="154.6" x2="391.1" y2="150.7"/>
<line class="lt" x1="380.8" y1="157.5" x2="392.1" y2="153.5"/>
<path class="w" d="M364.5,152.1 L377.3,147.6 A4.2 7.5 -19.3 0 1 382.3,161.7 L369.5,166.2 A4.2 7.5 -19.3 0 1 364.5,152.1Z"/><ellipse cx="367.0" cy="159.1" rx="4.2" ry="7.5" transform="rotate(-19.3 367.0 159.1)"/>
<path class="w" d="M314.3,169.1 L364.3,151.6 A4.5 8.0 -19.3 0 1 369.6,166.7 L319.6,184.2 A4.5 8.0 -19.3 0 1 314.3,169.1Z"/><ellipse cx="317.0" cy="176.7" rx="4.5" ry="8.0" transform="rotate(-19.3 317.0 176.7)"/>
<line class="lt" x1="315.1" y1="171.5" x2="365.2" y2="153.9"/>
<line class="lt" x1="316.0" y1="174.0" x2="366.1" y2="156.5"/>
<line class="lt" x1="317.0" y1="176.7" x2="367.0" y2="159.1"/>
<line class="lt" x1="317.9" y1="179.3" x2="367.9" y2="161.8"/>
<line class="lt" x1="318.8" y1="181.8" x2="368.8" y2="164.3"/>
<path class="w" d="M307.3,171.6 L314.3,169.1 A4.5 8.0 -19.3 0 1 319.6,184.2 L312.6,186.7 A4.5 8.0 -19.3 0 1 307.3,171.6Z"/><ellipse cx="310.0" cy="179.1" rx="4.5" ry="8.0" transform="rotate(-19.3 310.0 179.1)"/>
<path class="w" d="M296.2,174.8 L307.1,171.0 A4.8 8.6 -19.3 0 1 312.8,187.2 L301.9,191.1 A4.8 8.6 -19.3 0 1 296.2,174.8Z"/><ellipse cx="299.0" cy="182.9" rx="4.8" ry="8.6" transform="rotate(-19.3 299.0 182.9)"/>
<ellipse cx="302.4" cy="181.7" rx="4.8" ry="8.6" transform="rotate(-19.3 302.4 181.7)"/>
<ellipse cx="305.3" cy="180.8" rx="4.8" ry="8.6" transform="rotate(-19.3 305.3 180.8)"/>
<path class="w" d="M273.4,183.4 L296.4,175.4 A4.5 8.0 -19.3 0 1 301.7,190.5 L278.6,198.6 A4.5 8.0 -19.3 0 1 273.4,183.4Z"/><ellipse cx="276.0" cy="191.0" rx="4.5" ry="8.0" transform="rotate(-19.3 276.0 191.0)"/>
<line class="lt" x1="276.1" y1="185.1" x2="297.2" y2="177.7"/>
<line class="lt" x1="277.0" y1="187.7" x2="298.1" y2="180.3"/>
<line class="lt" x1="277.9" y1="190.3" x2="299.0" y2="182.9"/>
<line class="lt" x1="278.8" y1="193.0" x2="300.0" y2="185.6"/>
<line class="lt" x1="279.7" y1="195.5" x2="300.8" y2="188.1"/>
<ellipse cx="276.0" cy="191.0" rx="3.4" ry="6.0" transform="rotate(-19.3 276.0 191.0)"/>
<path class="w" d="M256.6,184.0 L260.4,182.7 A7.3 13.0 -19.3 0 1 269.0,207.2 L265.2,208.6 A7.3 13.0 -19.3 0 1 256.6,184.0Z"/><ellipse cx="260.9" cy="196.3" rx="7.3" ry="13.0" transform="rotate(-19.3 260.9 196.3)"/>
<ellipse cx="260.9" cy="196.3" rx="5.3" ry="9.5" transform="rotate(-19.3 260.9 196.3)"/>
<path class="w" d="M225.9,181.2 L238.5,183.7 A8.8 17.0 -19.3 0 1 249.7,215.8 L241.5,225.6 A12.2 23.5 -19.3 0 1 225.9,181.2Z"/>
<path class="w" d="M222.4,182.1 L225.8,180.9 A12.4 23.8 -19.3 0 1 241.6,225.8 L238.1,227.1 A12.4 23.8 -19.3 0 1 222.4,182.1Z"/><ellipse cx="230.2" cy="204.6" rx="12.4" ry="23.8" transform="rotate(-19.3 230.2 204.6)"/>
<ellipse cx="230.2" cy="204.6" rx="7.3" ry="14.0" transform="rotate(-19.3 230.2 204.6)"/>
<ellipse cx="230.2" cy="204.6" rx="5.5" ry="10.5" transform="rotate(-19.3 230.2 204.6)"/>
<path class="w" d="M200.3,178.2 L205.5,176.7 A1.0 1.9 -16.1 0 1 206.5,180.3 L201.3,181.8 A1.0 1.9 -16.1 0 1 200.3,178.2Z"/><ellipse cx="200.8" cy="180.0" rx="1.0" ry="1.9" transform="rotate(-16.1 200.8 180.0)"/><path class="w" d="M197.7,178.4 L200.1,177.7 A1.3 2.4 -16.1 0 1 201.5,182.3 L199.1,183.0 A1.3 2.4 -16.1 0 1 197.7,178.4Z"/><ellipse cx="198.4" cy="180.7" rx="1.3" ry="2.4" transform="rotate(-16.1 198.4 180.7)"/>
<path class="w" d="M200.7,202.1 L205.9,200.2 A1.0 1.9 -19.8 0 1 207.1,203.8 L202.0,205.6 A1.0 1.9 -19.8 0 1 200.7,202.1Z"/><ellipse cx="201.4" cy="203.9" rx="1.0" ry="1.9" transform="rotate(-19.8 201.4 203.9)"/><path class="w" d="M198.2,202.4 L200.5,201.6 A1.3 2.4 -19.8 0 1 202.2,206.1 L199.8,207.0 A1.3 2.4 -19.8 0 1 198.2,202.4Z"/><ellipse cx="199.0" cy="204.7" rx="1.3" ry="2.4" transform="rotate(-19.8 199.0 204.7)"/>
<path class="w" d="M215.1,228.8 L219.8,227.0 A1.0 1.9 -20.1 0 1 221.2,230.6 L216.4,232.3 A1.0 1.9 -20.1 0 1 215.1,228.8Z"/><ellipse cx="215.7" cy="230.5" rx="1.0" ry="1.9" transform="rotate(-20.1 215.7 230.5)"/><path class="w" d="M212.6,229.1 L214.9,228.3 A1.3 2.4 -20.1 0 1 216.6,232.8 L214.2,233.7 A1.3 2.4 -20.1 0 1 212.6,229.1Z"/><ellipse cx="213.4" cy="231.4" rx="1.3" ry="2.4" transform="rotate(-20.1 213.4 231.4)"/>
<path class="w" d="M237.4,232.5 L242.6,230.5 A1.0 1.9 -21.1 0 1 244.0,234.1 L238.8,236.1 A1.0 1.9 -21.1 0 1 237.4,232.5Z"/><ellipse cx="238.1" cy="234.3" rx="1.0" ry="1.9" transform="rotate(-21.1 238.1 234.3)"/><path class="w" d="M234.9,233.0 L237.3,232.1 A1.3 2.4 -21.1 0 1 239.0,236.5 L236.7,237.4 A1.3 2.4 -21.1 0 1 234.9,233.0Z"/><ellipse cx="235.8" cy="235.2" rx="1.3" ry="2.4" transform="rotate(-21.1 235.8 235.2)"/>

</g>
<g class="bl">
<polyline class="bs" points="204.3,217 231,206"/>
<polyline class="bs" points="249,200 282,188.5"/>
<polyline class="bs" points="393,150 449,130.5"/>
<polyline class="bs" points="509,303 521,298.6"/>
<polyline class="bs" points="559,285 607,265.6"/>
<polyline class="bs" points="356,431.8 398,417.3"/>
<polyline class="bs" points="448,400.2 470,392.6"/>
<polyline class="bs" points="503,381.2 528,372.5"/>
<polyline class="bs" points="440,403 480,424"/>
<polyline class="bs" points="727,316 734,320.4 740,324"/>
<polyline class="bs" points="358,364 367,365 367,372"/>
<polyline class="bs" points="293,386 301,384 301,406"/>
<polyline class="bs" points="799,301 821.4,312.5"/>
<polyline class="bs" points="343.3,435.4 356,431"/>
<polyline class="bs" points="342,466 350.6,477"/>
<polyline class="bs" points="286,453.5 300,448.7"/>
</g>
<g class="ld">
<polyline points="437,107 437,125"/>
<polyline points="321,142 321,166"/>
<polyline points="229,155 229,179"/>
<polyline points="260.6,155 260.6,182"/>
<polyline points="717,191 717,295"/>
<polyline points="747.6,191 747.6,218"/>
<polyline points="585.4,235 585.4,266"/>
<polyline points="600,235 600,262"/>
<polyline points="860,248 796,248"/>
<polyline points="860,287 833,287"/>
<polyline points="860,313.6 826,313.6"/>
<polyline points="458,272.5 458,354.5 481,354.5"/>
<polyline points="477,272.5 477,346 500,346"/>
<polyline points="489.5,272.5 489.5,296.5 492.5,296.5"/>
<polyline points="350.3,341 350.3,398"/>
<polyline points="357.5,341 357.5,364"/>
<polyline points="289,362 289,383"/>
<polyline points="327.4,363 327.4,394"/>
<polyline points="336,363 336,393"/>
<polyline points="197.4,403 197.4,434"/>
<polyline points="623,350 623,373"/>
<polyline points="645.6,339 645.6,373"/>
<polyline points="682.4,347 682.4,373"/>
<polyline points="703.6,332 703.6,373"/>
<polyline points="730,325 730,371"/>
<polyline points="738.4,329 738.4,371"/>
<polyline points="790,337 790,371"/>
<polyline points="597.3,372 597.3,390"/>
<polyline points="565.2,384.5 565.2,408.5"/>
<polyline points="543.8,390.5 543.8,419.5"/>
<polyline points="517,414 517,435"/>
<polyline points="465,420 465,459"/>
<polyline points="482.6,430 482.6,459"/>
<polyline points="413,457 413,486"/>
<polyline points="447,454 447,486"/>
<polyline points="457.6,459 457.6,486"/>
<polyline points="328,492 328,518"/>
<polyline points="351,477 351,518"/>
</g>
<g class="lb">
<rect x="429.70" y="92.80" width="16.08" height="12.6" fill="#fff"/>
<text x="429.46" y="104.4">2</text>
<text x="437.80" y="104.4">9</text>
<rect x="316.70" y="127.10" width="7.74" height="12.6" fill="#fff"/>
<path class="one" transform="translate(316.04 138.70) scale(1.0714)" d="M3.4,0 L5.5,0 L5.5,-10 L3.8,-10 C3.4,-8.9 2.3,-7.9 0.9,-7.4 L0.9,-5.6 C1.9,-5.9 2.8,-6.4 3.4,-7.0 Z"/>
<rect x="221.70" y="141.40" width="16.08" height="12.6" fill="#fff"/>
<path class="one" transform="translate(221.04 153.00) scale(1.0714)" d="M3.4,0 L5.5,0 L5.5,-10 L3.8,-10 C3.4,-8.9 2.3,-7.9 0.9,-7.4 L0.9,-5.6 C1.9,-5.9 2.8,-6.4 3.4,-7.0 Z"/>
<text x="229.38" y="153.0">3</text>
<rect x="253.70" y="141.40" width="16.08" height="12.6" fill="#fff"/>
<text x="253.46" y="153.0">2</text>
<text x="261.80" y="153.0">6</text>
<rect x="712.70" y="176.80" width="7.74" height="12.6" fill="#fff"/>
<text x="712.46" y="188.4">2</text>
<rect x="740.10" y="176.80" width="16.08" height="12.6" fill="#fff"/>
<path class="one" transform="translate(739.44 188.40) scale(1.0714)" d="M3.4,0 L5.5,0 L5.5,-10 L3.8,-10 C3.4,-8.9 2.3,-7.9 0.9,-7.4 L0.9,-5.6 C1.9,-5.9 2.8,-6.4 3.4,-7.0 Z"/>
<text x="747.78" y="188.4">9</text>
<rect x="573.70" y="220.40" width="16.08" height="12.6" fill="#fff"/>
<text x="573.46" y="232.0">2</text>
<text x="581.80" y="232.0">8</text>
<rect x="596.70" y="220.40" width="16.08" height="12.6" fill="#fff"/>
<text x="596.46" y="232.0">2</text>
<path class="one" transform="translate(604.80 232.00) scale(1.0714)" d="M3.4,0 L5.5,0 L5.5,-10 L3.8,-10 C3.4,-8.9 2.3,-7.9 0.9,-7.4 L0.9,-5.6 C1.9,-5.9 2.8,-6.4 3.4,-7.0 Z"/>
<rect x="861.30" y="241.40" width="16.08" height="12.6" fill="#fff"/>
<text x="861.28" y="253.0">3</text>
<path class="one" transform="translate(869.62 253.00) scale(1.0714)" d="M3.4,0 L5.5,0 L5.5,-10 L3.8,-10 C3.4,-8.9 2.3,-7.9 0.9,-7.4 L0.9,-5.6 C1.9,-5.9 2.8,-6.4 3.4,-7.0 Z"/>
<rect x="862.70" y="281.00" width="16.08" height="12.6" fill="#fff"/>
<text x="862.46" y="292.6">2</text>
<text x="870.80" y="292.6">4</text>
<rect x="862.70" y="308.00" width="16.08" height="12.6" fill="#fff"/>
<text x="862.46" y="319.6">2</text>
<text x="870.80" y="319.6">0</text>
<rect x="448.20" y="257.90" width="16.08" height="12.6" fill="#fff"/>
<path class="one" transform="translate(447.54 269.50) scale(1.0714)" d="M3.4,0 L5.5,0 L5.5,-10 L3.8,-10 C3.4,-8.9 2.3,-7.9 0.9,-7.4 L0.9,-5.6 C1.9,-5.9 2.8,-6.4 3.4,-7.0 Z"/>
<text x="455.88" y="269.5">0</text>
<rect x="468.70" y="257.90" width="16.08" height="12.6" fill="#fff"/>
<path class="one" transform="translate(468.04 269.50) scale(1.0714)" d="M3.4,0 L5.5,0 L5.5,-10 L3.8,-10 C3.4,-8.9 2.3,-7.9 0.9,-7.4 L0.9,-5.6 C1.9,-5.9 2.8,-6.4 3.4,-7.0 Z"/>
<path class="one" transform="translate(476.38 269.50) scale(1.0714)" d="M3.4,0 L5.5,0 L5.5,-10 L3.8,-10 C3.4,-8.9 2.3,-7.9 0.9,-7.4 L0.9,-5.6 C1.9,-5.9 2.8,-6.4 3.4,-7.0 Z"/>
<rect x="486.20" y="257.90" width="16.08" height="12.6" fill="#fff"/>
<text x="485.96" y="269.5">2</text>
<text x="494.30" y="269.5">3</text>
<rect x="338.70" y="326.80" width="16.08" height="12.6" fill="#fff"/>
<text x="338.68" y="338.4">3</text>
<text x="347.02" y="338.4">0</text>
<rect x="353.70" y="326.80" width="16.08" height="12.6" fill="#fff"/>
<path class="one" transform="translate(353.04 338.40) scale(1.0714)" d="M3.4,0 L5.5,0 L5.5,-10 L3.8,-10 C3.4,-8.9 2.3,-7.9 0.9,-7.4 L0.9,-5.6 C1.9,-5.9 2.8,-6.4 3.4,-7.0 Z"/>
<text x="361.38" y="338.4">9</text>
<rect x="280.70" y="347.80" width="16.08" height="12.6" fill="#fff"/>
<text x="280.68" y="359.4">3</text>
<text x="289.02" y="359.4">2</text>
<rect x="316.70" y="347.80" width="16.08" height="12.6" fill="#fff"/>
<text x="316.46" y="359.4">2</text>
<text x="324.80" y="359.4">2</text>
<rect x="332.70" y="347.80" width="16.08" height="12.6" fill="#fff"/>
<text x="332.46" y="359.4">2</text>
<text x="340.80" y="359.4">7</text>
<rect x="189.70" y="389.40" width="16.08" height="12.6" fill="#fff"/>
<path class="one" transform="translate(189.04 401.00) scale(1.0714)" d="M3.4,0 L5.5,0 L5.5,-10 L3.8,-10 C3.4,-8.9 2.3,-7.9 0.9,-7.4 L0.9,-5.6 C1.9,-5.9 2.8,-6.4 3.4,-7.0 Z"/>
<text x="197.38" y="401.0">7</text>
<rect x="619.70" y="374.00" width="7.74" height="12.6" fill="#fff"/>
<text x="619.36" y="385.6">7</text>
<rect x="641.70" y="374.00" width="7.74" height="12.6" fill="#fff"/>
<text x="641.57" y="385.6">8</text>
<rect x="678.10" y="374.00" width="7.74" height="12.6" fill="#fff"/>
<text x="678.08" y="385.6">3</text>
<rect x="697.70" y="374.40" width="16.08" height="12.6" fill="#fff"/>
<path class="one" transform="translate(697.04 386.00) scale(1.0714)" d="M3.4,0 L5.5,0 L5.5,-10 L3.8,-10 C3.4,-8.9 2.3,-7.9 0.9,-7.4 L0.9,-5.6 C1.9,-5.9 2.8,-6.4 3.4,-7.0 Z"/>
<text x="705.38" y="386.0">6</text>
<rect x="718.70" y="374.40" width="16.08" height="12.6" fill="#fff"/>
<path class="one" transform="translate(718.04 386.00) scale(1.0714)" d="M3.4,0 L5.5,0 L5.5,-10 L3.8,-10 C3.4,-8.9 2.3,-7.9 0.9,-7.4 L0.9,-5.6 C1.9,-5.9 2.8,-6.4 3.4,-7.0 Z"/>
<text x="726.38" y="386.0">9</text>
<rect x="735.70" y="374.40" width="16.08" height="12.6" fill="#fff"/>
<text x="735.46" y="386.0">2</text>
<text x="743.80" y="386.0">0</text>
<rect x="781.70" y="374.40" width="16.08" height="12.6" fill="#fff"/>
<path class="one" transform="translate(781.04 386.00) scale(1.0714)" d="M3.4,0 L5.5,0 L5.5,-10 L3.8,-10 C3.4,-8.9 2.3,-7.9 0.9,-7.4 L0.9,-5.6 C1.9,-5.9 2.8,-6.4 3.4,-7.0 Z"/>
<text x="789.38" y="386.0">5</text>
<rect x="593.20" y="392.90" width="7.74" height="12.6" fill="#fff"/>
<text x="592.96" y="404.5">6</text>
<rect x="560.20" y="410.40" width="7.74" height="12.6" fill="#fff"/>
<text x="560.29" y="422.0">4</text>
<rect x="540.20" y="421.40" width="7.74" height="12.6" fill="#fff"/>
<text x="539.96" y="433.0">5</text>
<rect x="513.70" y="436.00" width="7.74" height="12.6" fill="#fff"/>
<text x="513.46" y="447.6">9</text>
<rect x="459.70" y="460.40" width="16.08" height="12.6" fill="#fff"/>
<text x="459.46" y="472.0">2</text>
<text x="467.80" y="472.0">5</text>
<rect x="477.70" y="460.40" width="16.08" height="12.6" fill="#fff"/>
<path class="one" transform="translate(477.04 472.00) scale(1.0714)" d="M3.4,0 L5.5,0 L5.5,-10 L3.8,-10 C3.4,-8.9 2.3,-7.9 0.9,-7.4 L0.9,-5.6 C1.9,-5.9 2.8,-6.4 3.4,-7.0 Z"/>
<text x="485.38" y="472.0">8</text>
<rect x="404.10" y="487.80" width="16.08" height="12.6" fill="#fff"/>
<path class="one" transform="translate(403.44 499.40) scale(1.0714)" d="M3.4,0 L5.5,0 L5.5,-10 L3.8,-10 C3.4,-8.9 2.3,-7.9 0.9,-7.4 L0.9,-5.6 C1.9,-5.9 2.8,-6.4 3.4,-7.0 Z"/>
<text x="411.78" y="499.4">4</text>
<rect x="436.30" y="487.80" width="16.08" height="12.6" fill="#fff"/>
<path class="one" transform="translate(435.64 499.40) scale(1.0714)" d="M3.4,0 L5.5,0 L5.5,-10 L3.8,-10 C3.4,-8.9 2.3,-7.9 0.9,-7.4 L0.9,-5.6 C1.9,-5.9 2.8,-6.4 3.4,-7.0 Z"/>
<text x="443.98" y="499.4">9</text>
<rect x="452.70" y="487.80" width="16.08" height="12.6" fill="#fff"/>
<text x="452.46" y="499.4">2</text>
<text x="460.80" y="499.4">0</text>
<rect x="317.70" y="520.80" width="16.08" height="12.6" fill="#fff"/>
<path class="one" transform="translate(317.04 532.40) scale(1.0714)" d="M3.4,0 L5.5,0 L5.5,-10 L3.8,-10 C3.4,-8.9 2.3,-7.9 0.9,-7.4 L0.9,-5.6 C1.9,-5.9 2.8,-6.4 3.4,-7.0 Z"/>
<text x="325.38" y="532.4">2</text>
<rect x="344.70" y="520.80" width="16.08" height="12.6" fill="#fff"/>
<path class="one" transform="translate(344.04 532.40) scale(1.0714)" d="M3.4,0 L5.5,0 L5.5,-10 L3.8,-10 C3.4,-8.9 2.3,-7.9 0.9,-7.4 L0.9,-5.6 C1.9,-5.9 2.8,-6.4 3.4,-7.0 Z"/>
<text x="352.38" y="532.4">9</text>
</g>
</g>
</svg>
</body></html>
